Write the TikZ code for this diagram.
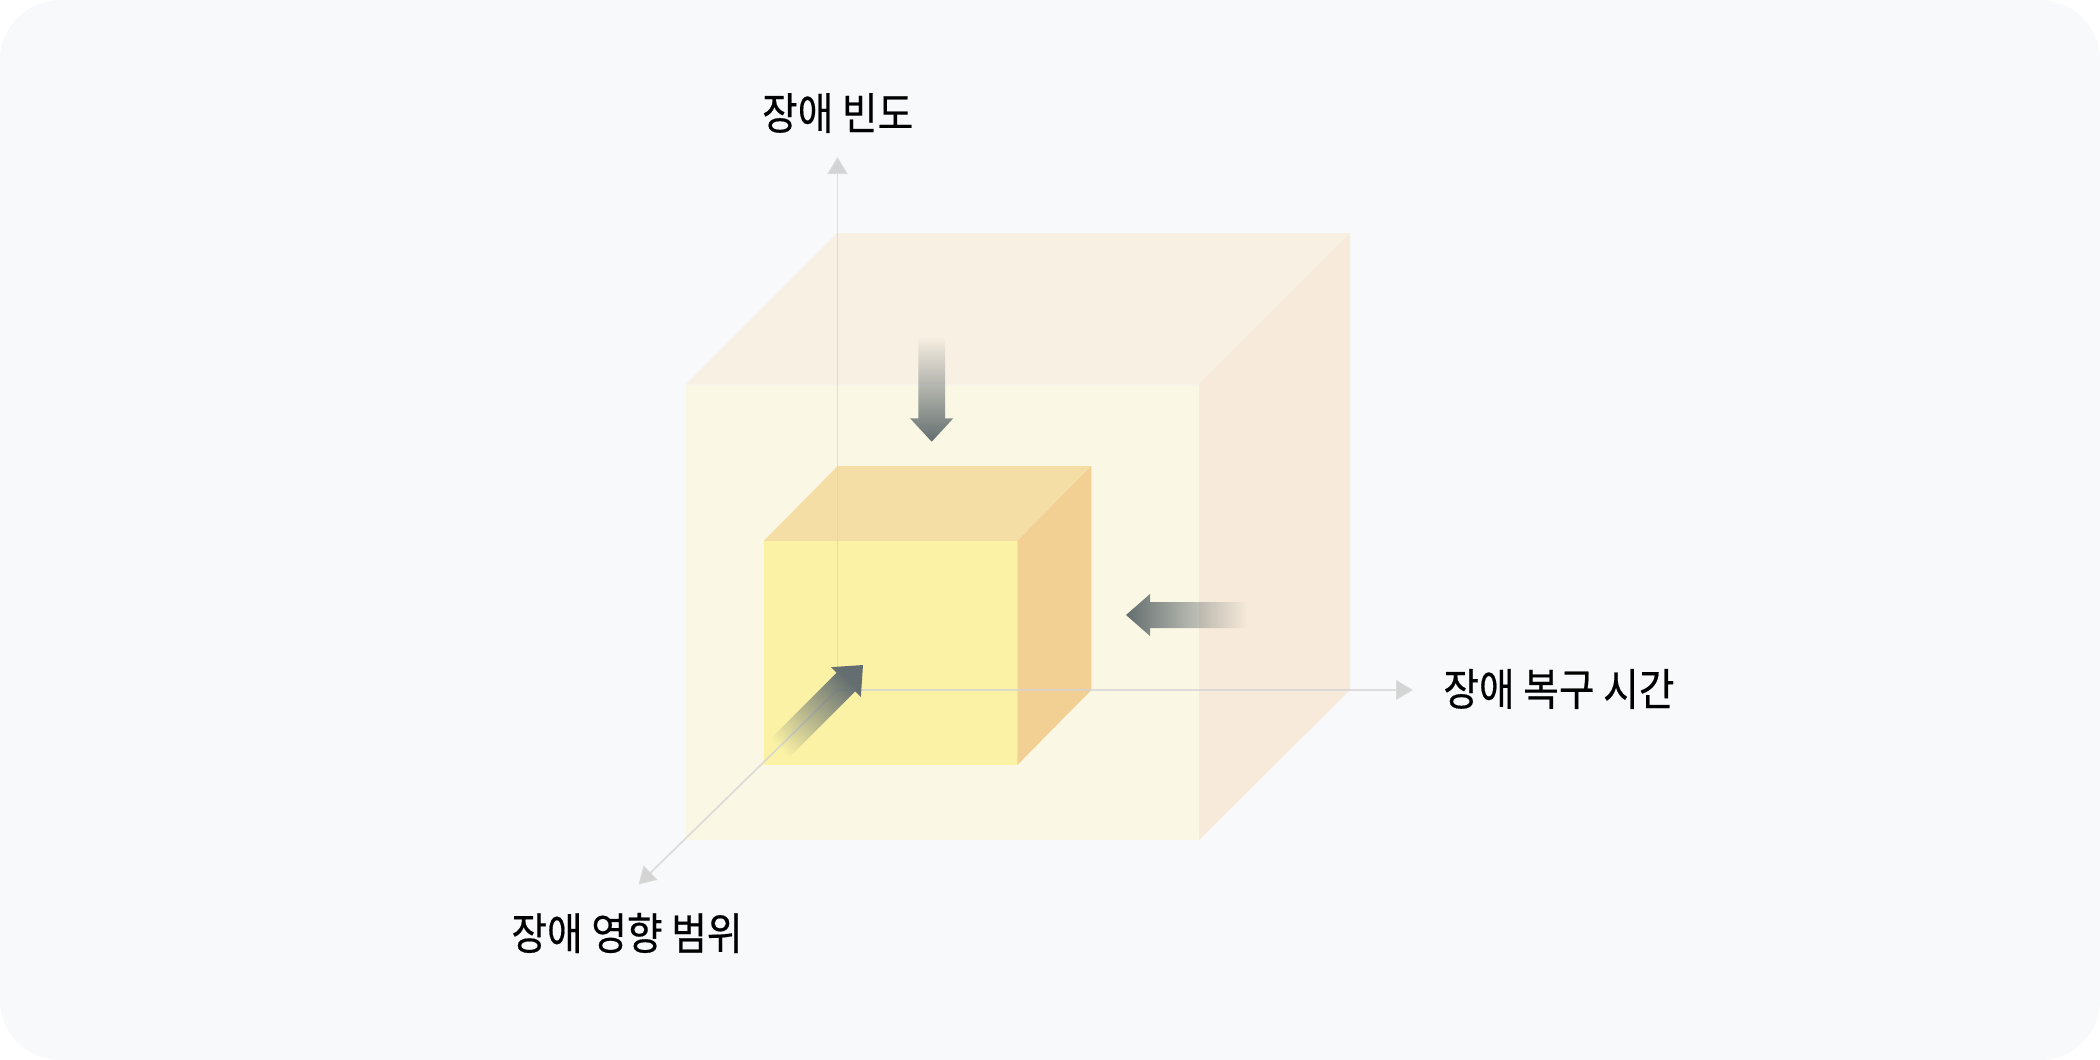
\documentclass[tikz,border=0pt]{standalone}
\usepackage{fontspec}
\newfontfamily\kr[FakeStretch=0.88,FakeBold=0.4]{Noto Sans CJK KR}
\usetikzlibrary{arrows.meta,fadings}
\definecolor{bg}{HTML}{F8F9FB}
\definecolor{otop}{HTML}{F8F0E3}
\definecolor{ofront}{HTML}{FAF7E4}
\definecolor{oright}{HTML}{F7EADA}
\definecolor{itop}{HTML}{F5DEA6}
\definecolor{ifront}{HTML}{FBF2A5}
\definecolor{iright}{HTML}{F2CF92}
\definecolor{axisgray}{HTML}{D4D4D4}
\definecolor{blockgray}{HTML}{646E70}
\begin{document}
\begin{tikzpicture}[x=0.5pt,y=-0.5pt,
  axisline/.style={draw=axisgray, line width=0.9pt, draw opacity=0.75},
  axishead/.style={-{Triangle[length=8.5pt,width=10pt]}},
  label/.style={font=\kr\fontsize{22pt}{26pt}\selectfont, text=black, inner sep=0pt},
  blockarrow/.style={fill=blockgray}]
\useasboundingbox (0,0) rectangle (2100,1060);
\fill[bg, rounded corners=30pt] (0,0) rectangle (2100,1060);
% outer cube
\fill[otop] (685.7,384.5) -- (1199,384.5) -- (1350,233) -- (837,233) -- cycle;
\fill[oright] (1199,384.5) -- (1350,233) -- (1350,690) -- (1199,840) -- cycle;
\fill[ofront] (685.7,384.5) rectangle (1199,840);
% inner cube
\fill[itop] (763.8,540.8) -- (1017.3,540.8) -- (1091.3,466) -- (837.8,466) -- cycle;
\fill[iright] (1017.3,540.8) -- (1091.3,466) -- (1091.3,690) -- (1017.3,765) -- cycle;
\fill[ifront] (763.8,540.8) rectangle (1017.3,765);
% axes
\coordinate (O) at (837.5,690);
\coordinate (yend) at (837.5,157);
\coordinate (xend) at (1413,690);
\coordinate (zend) at (638.5,884.5);
\draw[axisline, axishead] (O) -- (yend);
\draw[axisline, axishead] (O) -- (xend);
\draw[axisline, axishead] (O) -- (zend);
% block arrows
\fill[blockarrow, path fading=north] (931.7,441.7) -- (953.3,418.3) -- (945,418.3) -- (945,336.7) -- (918.3,336.7) -- (918.3,418.3) -- (910,418.3) -- cycle;
\fill[blockarrow, path fading=east] (1126,615) -- (1150,594) -- (1150,602) -- (1247,602) -- (1247,628) -- (1150,628) -- (1150,636) -- cycle;
\fill[blockarrow, path fading=west, fading angle=45] (863,665) -- (831.15,667.15) -- (836.7,672.7) -- (765.3,744.1) -- (783.9,762.7) -- (855.3,691.3) -- (860.85,696.85) -- cycle;
% labels
\node[label] (ly) at (837.7,113) {장애 빈도};
\node[label, anchor=west] (lx) at (1443,689) {장애 복구 시간};
\node[label] (lz) at (627,933) {장애 영향 범위};
\end{tikzpicture}
\end{document}
